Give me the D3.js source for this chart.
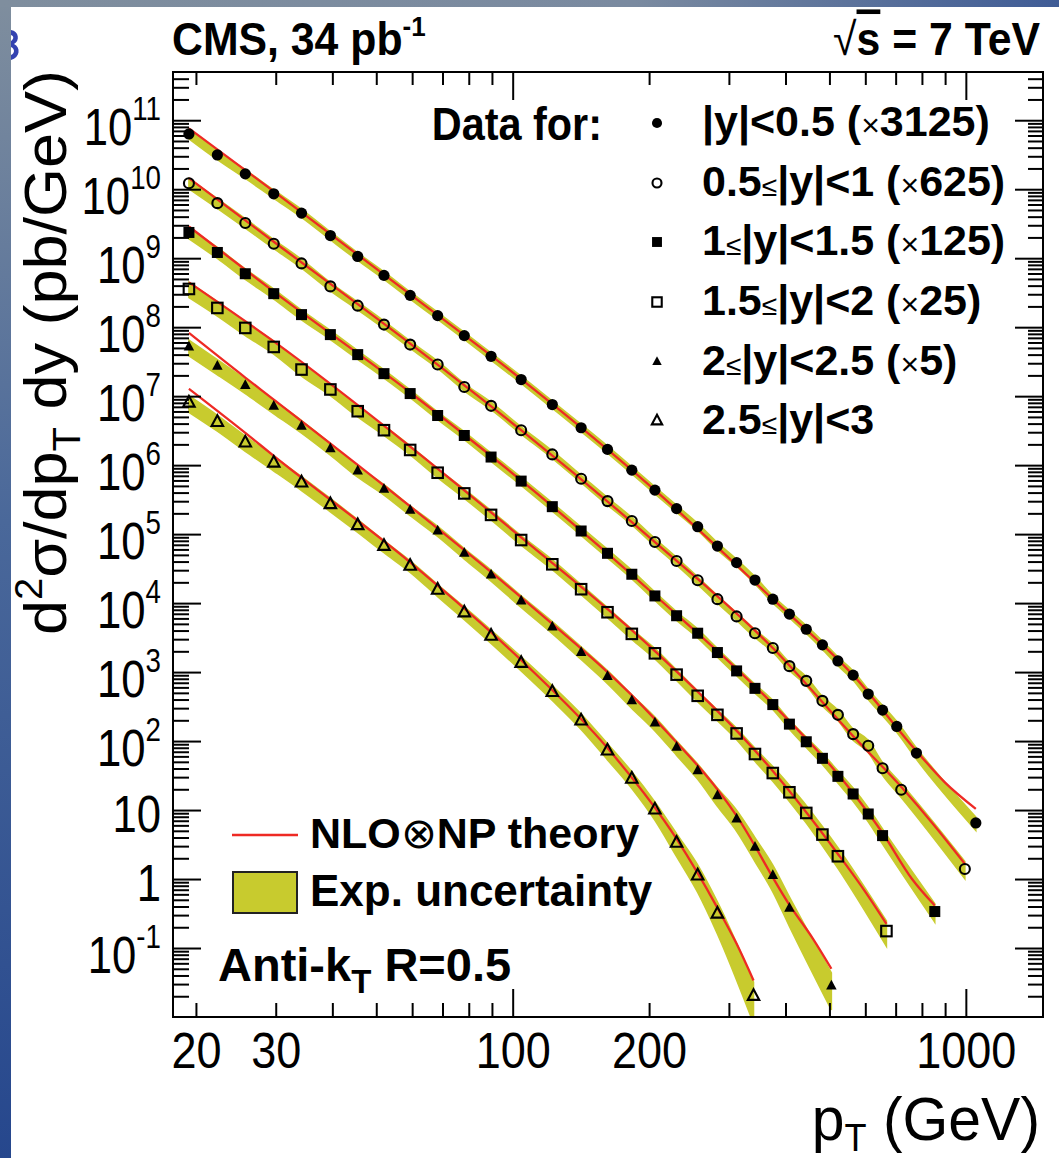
<!DOCTYPE html>
<html><head><meta charset="utf-8">
<script src="https://cdn.jsdelivr.net/npm/d3@7/dist/d3.min.js"></script>
<style>
html,body{margin:0;padding:0;background:#fff;}
svg{display:block}
text{font-family:"Liberation Sans",Arial,Helvetica,sans-serif;fill:#000}
</style></head><body>
<svg id="chart" width="1059" height="1158"></svg>
<script>
// ---------------- data (values as plotted, scale factors included) ----------------
const ptBins = [19.3, 22.3, 25.7, 29.7, 34.2, 39.6, 45.5, 52, 59.4, 68.3, 78.2, 89.6,
  104.4, 122.3, 141.6, 161.9, 183.2, 206, 230, 256, 283, 312, 342.5, 375, 408, 444.5,
  482.5, 522, 564, 609, 655, 704];

// |y|<0.5 (x3125)
const ptY0 = ptBins.concat([778, 1052]);
const valY0 = [6.33e10, 3.14e10, 1.67e10, 8.57e9, 4.50e9, 2.13e9, 1.06e9, 5.63e8, 2.89e8,
  1.47e8, 7.54e7, 3.78e7, 1.74e7, 7.56e6, 3.48e6, 1.69e6, 8.46e5, 4.34e5, 2.34e5, 1.28e5,
  6.72e4, 3.86e4, 2.16e4, 1.14e4, 6.92e3, 4.18e3, 2.48e3, 1.45e3, 903, 480, 281, 163, 67, 6.5];
// 0.5<=|y|<1 (x625)
const ptY1 = ptBins.slice(0, 31).concat([720, 995]);
const valY1 = [1.22e10, 6.28e9, 3.23e9, 1.62e9, 8.40e8, 3.90e8, 2.05e8, 1.09e8, 5.59e7,
  2.87e7, 1.36e7, 7.24e6, 3.21e6, 1.43e6, 6.35e5, 3.01e5, 1.55e5, 7.67e4, 4.07e4, 2.14e4,
  1.14e4, 6.41e3, 3.66e3, 2.23e3, 1.22e3, 746, 383, 240, 126, 85.5, 40.3, 19.7, 1.40];
// 1<=|y|<1.5 (x125)
const ptY2 = ptBins.slice(0, 31).concat([854]);
const valY2 = [2.36e9, 1.21e9, 5.95e8, 3.06e8, 1.52e8, 7.80e7, 4.00e7, 2.12e7, 1.09e7,
  5.24e6, 2.69e6, 1.31e6, 5.87e5, 2.50e5, 1.11e5, 5.27e4, 2.62e4, 1.27e4, 6.56e3, 3.66e3,
  1.92e3, 1.04e3, 581, 338, 176, 97.7, 56.2, 30.8, 17.1, 8.77, 4.26, 0.338];
// 1.5<=|y|<2 (x25)
const ptY3 = ptBins.slice(0, 28).concat([668]);
const valY3 = [3.58e8, 1.90e8, 9.75e7, 5.17e7, 2.43e7, 1.25e7, 6.05e6, 3.21e6, 1.66e6,
  7.76e5, 3.89e5, 1.90e5, 8.21e4, 3.65e4, 1.59e4, 7.37e3, 3.58e3, 1.87e3, 918, 453, 240,
  129, 64.9, 34.4, 18.1, 9.08, 4.41, 2.14, 0.176];
// 2<=|y|<2.5 (x5)
const ptY4 = ptBins.slice(0, 25).concat([505]);
const valY4 = [5.17e7, 2.71e7, 1.42e7, 7.14e6, 3.67e6, 1.73e6, 8.18e5, 4.45e5, 2.21e5,
  1.11e5, 5.27e4, 2.55e4, 1.07e4, 4.50e3, 1.92e3, 865, 383, 182, 81.1, 37.2, 16.1, 7.43,
  2.89, 1.12, 0.378, 0.0281];
// 2.5<=|y|<3
const ptY5 = ptBins.slice(0, 21).concat([340]);
const valY5 = [8.00e6, 4.19e6, 2.11e6, 1.08e6, 5.56e5, 2.70e5, 1.34e5, 6.71e4, 3.45e4,
  1.55e4, 7.29e3, 3.34e3, 1.35e3, 512, 197, 72.4, 28.2, 10.1, 3.33, 1.12, 0.313, 0.0201];

// NLO x NP theory curves: [pT, value]
const thY0 = [[19.3,7.61e10],[29.7,9.31e9],[59.4,2.99e8],[104.4,1.77e7],[206,4.34e5],[375,1.14e4],[564,903],[778,71.7],[900,25],[1052,10.4]];
const thY1 = [[19.3,1.45e10],[29.7,1.73e9],[59.4,5.78e7],[104.4,3.21e6],[206,7.67e4],[375,2.23e3],[564,118],[720,21.7],[850,6.08],[995,1.66]];
const thY2 = [[19.3,2.88e9],[29.7,3.27e8],[59.4,1.13e7],[104.4,6.00e5],[206,1.30e4],[375,343],[564,17.7],[655,4.65],[760,1.01],[854,0.413]];
const thY3 = [[19.3,4.46e8],[29.7,6.21e7],[59.4,1.86e6],[104.4,8.98e4],[206,2.01e3],[375,36.8],[522,2.31],[600,0.652],[668,0.224]];
const thY4 = [[19.3,8.25e7],[25.7,1.86e7],[29.7,8.93e6],[59.4,2.52e5],[104.4,1.21e4],[206,208],[312,8.21],[408,0.423],[460,0.136],[505,0.050]];
const thY5 = [[19.3,1.28e7],[25.7,2.94e6],[29.7,1.36e6],[59.4,3.90e4],[104.4,1.49e3],[161.9,79.2],[230,3.81],[283,0.382],[312,0.115],[340,0.0339]];

// experimental relative uncertainty read at a few pT values: [pT, rel. unc.]
const uncY0 = [[19.3,0.15],[60,0.12],[400,0.12],[1052,0.22]];
const uncY1 = [[19.3,0.17],[60,0.12],[400,0.13],[995,0.28]];
const uncY2 = [[19.3,0.19],[60,0.13],[400,0.15],[854,0.30]];
const uncY3 = [[19.3,0.25],[60,0.15],[300,0.18],[668,0.40]];
const uncY4 = [[19.3,0.26],[60,0.16],[250,0.24],[505,0.55]];
const uncY5 = [[19.3,0.27],[60,0.19],[200,0.28],[340,0.60]];

const markerTypes = ["fc", "oc", "fs", "os", "ft", "ot"];
const legendLabels = [
  ["|y|<0.5 (", {t:"×", w:"normal", s:32}, "3125)"],
  ["0.5", {t:"≤", w:"normal", s:28}, "|y|<1 (", {t:"×", w:"normal", s:32}, "625)"],
  ["1", {t:"≤", w:"normal", s:28}, "|y|<1.5 (", {t:"×", w:"normal", s:32}, "125)"],
  ["1.5", {t:"≤", w:"normal", s:28}, "|y|<2 (", {t:"×", w:"normal", s:32}, "25)"],
  ["2", {t:"≤", w:"normal", s:28}, "|y|<2.5 (", {t:"×", w:"normal", s:32}, "5)"],
  ["2.5", {t:"≤", w:"normal", s:28}, "|y|<3"]
];
const xTickLabels = [20, 30, 100, 200, 1000];
const xMajorTicks = [100, 1000];
const xMinorTicks = [20, 30, 40, 50, 60, 70, 80, 90, 200, 300, 400, 500, 600, 700, 800, 900];
const yExponents = [-1, 0, 1, 2, 3, 4, 5, 6, 7, 8, 9, 10, 11];

// ---------------- layout ----------------
const W = 1059, H = 1158;
const F = {l: 173, t: 72, r: 1043, b: 1017};
const RED = "#ee2a24", BAND = "#c8cb2e";

const svg = d3.select("#chart");
const x = d3.scaleLog().domain([17.8, 1480]).range([F.l, F.r]);
const y = d3.scaleLog().domain([0.01, 5e11]).range([F.b, F.t]);

const defs = svg.append("defs");
const gl = defs.append("linearGradient").attr("id","gLeft").attr("x1",0).attr("y1",0).attr("x2",0).attr("y2",1);
gl.append("stop").attr("offset","0").attr("stop-color","#7f8e9e");
gl.append("stop").attr("offset","0.45").attr("stop-color","#4a689a");
gl.append("stop").attr("offset","1").attr("stop-color","#26478d");
const gt = defs.append("linearGradient").attr("id","gTop").attr("x1",0).attr("y1",0).attr("x2",1).attr("y2",0);
gt.append("stop").attr("offset","0").attr("stop-color","#7f8e9e");
gt.append("stop").attr("offset","0.6").attr("stop-color","#7a8aa0");
gt.append("stop").attr("offset","1").attr("stop-color","#3f5c96");
defs.append("clipPath").attr("id","plotClip").append("rect")
  .attr("x",F.l).attr("y",F.t).attr("width",F.r-F.l).attr("height",F.b-F.t);

svg.append("rect").attr("width",W).attr("height",H).attr("fill","#fff");

// rich text helper
function rich(parent, tx, ty, parts, o) {
  const g = parent.append("g").attr("transform", `translate(${tx},${ty})` + (o.rot ? ` rotate(${o.rot})` : "") + ` scale(${o.sx||1},${o.sy||1})`);
  const t = g.append("text").attr("x",0).attr("y",0).attr("font-size",o.size)
    .attr("font-weight",o.weight||"normal").attr("text-anchor",o.anchor||"start");
  if (o.fill) t.style("fill", o.fill);
  parts.forEach(p => {
    if (typeof p === "string") p = {t:p};
    const s = t.append("tspan").text(p.t);
    if (p.s) s.attr("font-size", p.s);
    if (p.w) s.attr("font-weight", p.w);
    if (p.dy) s.attr("dy", p.dy);
    if (p.deco) s.style("text-decoration", p.deco);
  });
  return g;
}

// slide fragment (edge of a blue glyph) + borders
svg.append("path").attr("d","M11,30 C19,31 20,41 14,44 C21,47 20,58 11,60 L11,55 C15,53 15,49 11,47 L11,41 C14,39 14,36 11,35 Z")
  .attr("fill","#3443b0");
svg.append("rect").attr("x",0).attr("y",0).attr("width",11).attr("height",H).attr("fill","url(#gLeft)");
svg.append("rect").attr("x",0).attr("y",0).attr("width",W).attr("height",7).attr("fill","url(#gTop)");

// ---------------- plot content ----------------
const series = [
  {pt: ptY0, v: valY0, th: thY0, unc: uncY0, m: markerTypes[0]},
  {pt: ptY1, v: valY1, th: thY1, unc: uncY1, m: markerTypes[1]},
  {pt: ptY2, v: valY2, th: thY2, unc: uncY2, m: markerTypes[2]},
  {pt: ptY3, v: valY3, th: thY3, unc: uncY3, m: markerTypes[3]},
  {pt: ptY4, v: valY4, th: thY4, unc: uncY4, m: markerTypes[4]},
  {pt: ptY5, v: valY5, th: thY5, unc: uncY5, m: markerTypes[5]}
];
function uncAt(nodes, p) {
  const lp = Math.log10(p);
  if (p <= nodes[0][0]) return nodes[0][1];
  for (let i = 1; i < nodes.length; i++) {
    if (p <= nodes[i][0]) {
      const a = Math.log10(nodes[i-1][0]), b = Math.log10(nodes[i][0]);
      const f = (lp - a) / (b - a);
      return nodes[i-1][1] + f * (nodes[i][1] - nodes[i-1][1]);
    }
  }
  return nodes[nodes.length-1][1];
}

const plot = svg.append("g").attr("clip-path","url(#plotClip)");
const area = d3.area().x(d => x(d.pt)).y0(d => y(d.lo)).y1(d => y(d.hi)).curve(d3.curveMonotoneX);
const line = d3.line().x(d => x(d[0])).y(d => y(d[1])).curve(d3.curveMonotoneX);

series.forEach(s => {
  const pts = s.pt.map((p, i) => { const u = uncAt(s.unc, p); return {pt: p, lo: s.v[i]*(1-u), hi: s.v[i]*(1+u)}; });
  plot.append("path").attr("d", area(pts)).attr("fill", BAND).attr("stroke", BAND).attr("stroke-width", 1.5);
});
series.forEach(s => {
  plot.append("path").attr("d", line(s.th)).attr("fill","none").attr("stroke",RED).attr("stroke-width",2.3);
});

function marker(g, type, cx, cy, k) {
  k = k || 1;
  const open = type[0] === "o";
  let el;
  if (type[1] === "c") {
    el = g.append("circle").attr("cx",cx).attr("cy",cy).attr("r", (open ? 5.0 : 5.6)*k);
  } else if (type[1] === "s") {
    const a = (open ? 10.5 : 11)*k;
    el = g.append("rect").attr("x",cx-a/2).attr("y",cy-a/2).attr("width",a).attr("height",a);
  } else {
    const a = (open ? 11.5 : 10.5)*k;
    const pts = [[cx, cy-a*0.6],[cx-a/2, cy+a*0.33],[cx+a/2, cy+a*0.33]];
    el = g.append("path").attr("d", "M" + pts.map(p => p.join(",")).join("L") + "Z");
  }
  if (open) el.attr("fill","none").attr("stroke","#000").attr("stroke-width",2.1);
  else el.attr("fill","#000");
}
const markG = svg.append("g");
series.forEach(s => s.pt.forEach((p, i) => marker(markG, s.m, x(p), y(s.v[i]))));

// ---------------- axes ----------------
function styleAxis(g) {
  g.select(".domain").remove();
  g.selectAll(".tick line").attr("stroke","#000").attr("stroke-width",2);
}
svg.append("g").attr("transform",`translate(0,${F.b})`).call(d3.axisBottom(x).tickValues(xMajorTicks).tickSize(-28).tickFormat("")).call(styleAxis);
svg.append("g").attr("transform",`translate(0,${F.b})`).call(d3.axisBottom(x).tickValues(xMinorTicks).tickSize(-14).tickFormat("")).call(styleAxis);
svg.append("g").attr("transform",`translate(0,${F.t})`).call(d3.axisTop(x).tickValues(xMajorTicks).tickSize(-28).tickFormat("")).call(styleAxis);
svg.append("g").attr("transform",`translate(0,${F.t})`).call(d3.axisTop(x).tickValues(xMinorTicks).tickSize(-13).tickFormat("")).call(styleAxis);

const yMajorVals = yExponents.map(e => Math.pow(10, e));
const yMinorVals = [];
for (let e = -2; e <= 11; e++) for (let m = 2; m <= 9; m++) { const v = m*Math.pow(10,e); if (v > 0.01 && v < 5e11) yMinorVals.push(v); }
svg.append("g").attr("transform",`translate(${F.l},0)`).call(d3.axisLeft(y).tickValues(yMajorVals).tickSize(-28).tickFormat("")).call(styleAxis);
svg.append("g").attr("transform",`translate(${F.l},0)`).call(d3.axisLeft(y).tickValues(yMinorVals).tickSize(-16).tickFormat("")).call(styleAxis);
svg.append("g").attr("transform",`translate(${F.r},0)`).call(d3.axisRight(y).tickValues(yMajorVals).tickSize(-28).tickFormat("")).call(styleAxis);
svg.append("g").attr("transform",`translate(${F.r},0)`).call(d3.axisRight(y).tickValues(yMinorVals).tickSize(-15).tickFormat("")).call(styleAxis);

svg.append("rect").attr("x",F.l).attr("y",F.t).attr("width",F.r-F.l).attr("height",F.b-F.t)
  .attr("fill","none").attr("stroke","#000").attr("stroke-width",2);

// x tick labels
const xl = svg.append("g").attr("transform",`translate(0,${F.b})`)
  .call(d3.axisBottom(x).tickValues(xTickLabels).tickSize(0).tickPadding(0).tickFormat(d3.format("d")));
xl.select(".domain").remove();
xl.selectAll("text").attr("y",51).attr("dy",null).attr("font-size",50).attr("font-family",null)
  .attr("transform","scale(0.9,1)").style("fill","#000");

// y tick labels
yExponents.forEach(e => {
  const ty = y(Math.pow(10, e));
  if (e === 0 || e === 1) {
    rich(svg, 161, ty + 22, [e === 0 ? "1" : "10"], {size:52, anchor:"end", sx:0.84});
  } else {
    rich(svg, 161, ty + 25, ["10", {t: String(e), s:33, dy:-25}], {size:52, anchor:"end", sx:0.84});
  }
});

// axis titles
rich(svg, 66, 70, ["d", {t:"2", s:38, dy:-24}, {t:"σ/dp", dy:24}, {t:"T", s:38, dy:14}, {t:" dy (pb/GeV)", dy:-14}],
  {size:60, anchor:"end", rot:-90, sx:1.05});
rich(svg, 1040, 1140, ["p", {t:"T", s:38, dy:11}, {t:" (GeV)", dy:-11}], {size:62, anchor:"end", sx:0.95});

// header
rich(svg, 172, 55, ["CMS, 34 pb", {t:"-1", s:28, dy:-19}], {size:46, weight:"bold", sx:0.93});
rich(svg, 1040, 55, [{t:"√", w:"normal"}, {t:"s", deco:"overline"}, " = 7 TeV"], {size:46, weight:"bold", anchor:"end", sx:0.93});

// data legend
rich(svg, 602, 140, ["Data for:"], {size:46, weight:"bold", anchor:"end", sx:0.9});
const legY = [123, 183, 242, 302, 362, 421];
legendLabels.forEach((lab, i) => {
  marker(svg, markerTypes[i], 657, legY[i], 0.9);
  rich(svg, 702, legY[i] + 13, lab, {size:43, weight:"bold", sx:1.0});
});

// theory legend
svg.append("line").attr("x1",232).attr("x2",298).attr("y1",835).attr("y2",835).attr("stroke",RED).attr("stroke-width",2.3);
rich(svg, 310, 848, ["NLO", {t:"⊗", w:"normal"}, "NP theory"], {size:43, weight:"bold", sx:1.0});
svg.append("rect").attr("x",233).attr("y",872).attr("width",64).attr("height",41).attr("fill",BAND).attr("stroke","#222").attr("stroke-width",2);
rich(svg, 310, 906, ["Exp. uncertainty"], {size:44, weight:"bold", sx:1.0});
rich(svg, 218, 981, ["Anti-k", {t:"T", s:33, dy:12}, {t:" R=0.5", dy:-12}], {size:47, weight:"bold", sx:1.0});
</script>
</body></html>
